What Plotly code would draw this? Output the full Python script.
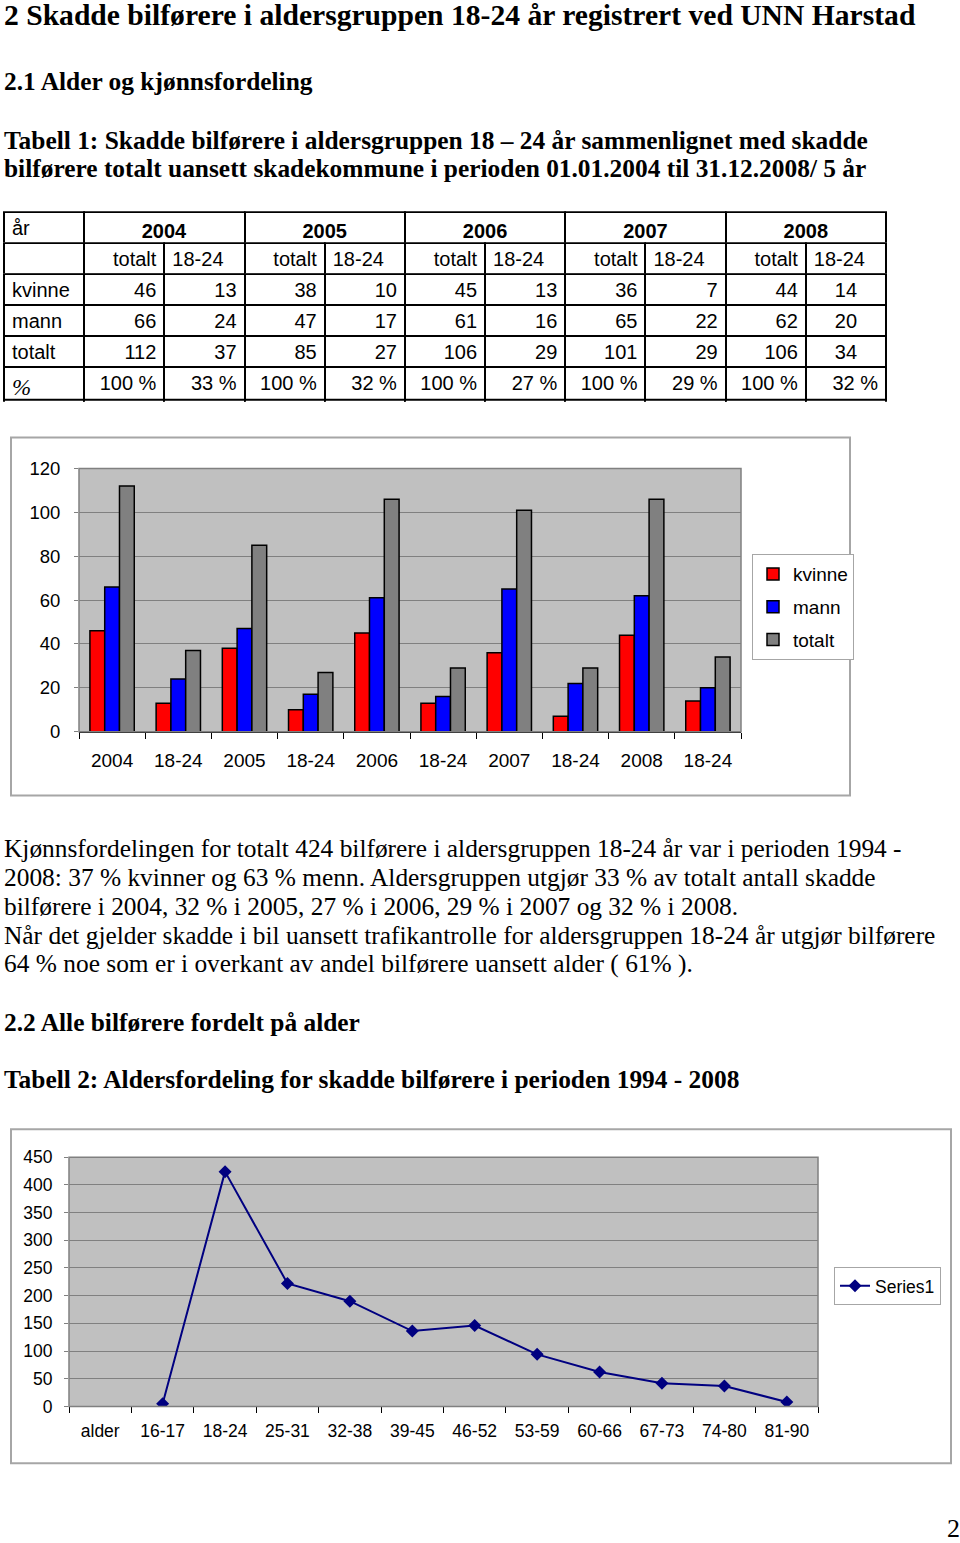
import plotly.graph_objects as go

# ---------------- data ----------------
years = ["2004", "2005", "2006", "2007", "2008"]
kvinne_totalt = [46, 38, 45, 36, 44]
kvinne_1824 = [13, 10, 13, 7, 14]
mann_totalt = [66, 47, 61, 65, 62]
mann_1824 = [24, 17, 16, 22, 20]
totalt_totalt = [112, 85, 106, 101, 106]
totalt_1824 = [37, 27, 29, 29, 34]

age_groups = ["alder", "16-17", "18-24", "25-31", "32-38", "39-45", "46-52",
              "53-59", "60-66", "67-73", "74-80", "81-90"]
age_counts = [None, 5, 424, 222, 190, 136, 146, 94, 62, 42, 37, 8]

W, H = 960, 1543
# the page is shown with the plot area offset/squeezed vertically; map target pixels
Y_OFF, Y_SPAN = 8, 1527


def px(x):
    return x / W


def py(y):
    return 1 - (y - Y_OFF) / Y_SPAN


SANS = "Liberation Sans"
SERIF = "Liberation Serif"
LINE = dict(color="black", width=2)

fig = go.Figure()


def add_row(values, align, widths, top, bottom, family=SANS, size=20, extra=0):
    fig.add_trace(go.Table(
        domain=dict(x=[px(4), px(886)], y=[py(bottom + extra), py(top)]),
        columnwidth=widths,
        header=dict(values=values, height=bottom - top, align=align, line=LINE,
                    fill=dict(color="white"),
                    font=dict(family=family, size=size, color="black")),
    ))


# row 1: year headers (merged cells)
add_row(["år"] + ["<b>%s</b>" % y for y in years], ["left"] + ["center"] * 5,
        [80] + [160] * 5, 210, 241)
# row 2: sub headers
sub = [""]
for y in years:
    sub += ["totalt", "18-24"]
add_row(sub, ["left"] + ["right", "left"] * 5, [80] * 11, 241, 272)
# rows 3-5: counts
count_rows = [("kvinne", kvinne_totalt, kvinne_1824),
              ("mann", mann_totalt, mann_1824),
              ("totalt", totalt_totalt, totalt_1824)]
top = 272
for label, tot, young in count_rows:
    vals = [label]
    for i in range(5):
        vals += [str(tot[i]), str(young[i])]
    add_row(vals, ["left"] + ["right"] * 9 + ["center"], [80] * 11, top, top + 31)
    top += 31
# row 6: percentages
pct = ["<i>%</i>"]
for i in range(5):
    pct += ["100 %", "%d %%" % round(totalt_1824[i] / totalt_totalt[i] * 100)]
add_row(pct, ["left"] + ["right"] * 10, [80] * 11, 365, 398,
        family=[SERIF] + [SANS] * 10, size=[23] + [20] * 10, extra=3)

# ---------------- bar chart ----------------
bar_labels = []
kv, ma, to = [], [], []
for i, y in enumerate(years):
    bar_labels += [y, "18-24"]
    kv += [kvinne_totalt[i], kvinne_1824[i]]
    ma += [mann_totalt[i], mann_1824[i]]
    to += [totalt_totalt[i], totalt_1824[i]]
xb = list(range(len(bar_labels)))

for name, vals, col in [("kvinne", kv, "#FF0000"), ("mann", ma, "#0000FF"), ("totalt", to, "#808080")]:
    fig.add_trace(go.Bar(x=xb, y=vals, name=name, marker=dict(color=col, line=dict(color="black", width=1.5)),
                         xaxis="x", yaxis="y", legend="legend", legendgroup=name))

# ---------------- line chart ----------------
xl = list(range(len(age_groups)))
fig.add_trace(go.Scatter(x=xl, y=age_counts, name="Series1", mode="lines+markers",
                         line=dict(color="#000080", width=2),
                         marker=dict(symbol="diamond", size=10, color="#000080"),
                         xaxis="x2", yaxis="y2", legend="legend2"))

# ---------------- text ----------------
TS = 25.4
texts = [
    ("<b>2 Skadde bilførere i aldersgruppen 18-24 år registrert ved UNN Harstad</b>", 12, 29.6),
    ("<b>2.1 Alder og kjønnsfordeling</b>", 78, TS),
    ("<b>Tabell 1: Skadde bilførere i aldersgruppen 18 – 24 år sammenlignet med skadde</b>", 137, TS),
    ("<b>bilførere totalt uansett skadekommune i perioden 01.01.2004 til 31.12.2008/ 5 år</b>", 166, TS),
    ("Kjønnsfordelingen for totalt 424 bilførere i aldersgruppen 18-24 år var i perioden 1994 -", 848, TS),
    ("2008: 37 % kvinner og 63 % menn. Aldersgruppen utgjør 33 % av totalt antall skadde", 877, TS),
    ("bilførere i 2004, 32 % i 2005, 27 % i 2006, 29 % i 2007 og 32 % i 2008.", 906, TS),
    ("Når det gjelder skadde i bil uansett trafikantrolle for aldersgruppen 18-24 år utgjør bilførere", 935, TS),
    ("64 % noe som er i overkant av andel bilførere uansett alder ( 61% ).", 964, TS),
    ("<b>2.2 Alle bilførere fordelt på alder</b>", 1022, TS),
    ("<b>Tabell 2: Aldersfordeling for skadde bilførere i perioden 1994 - 2008</b>", 1080, TS),
]
annotations = []
for t, yy, s in texts:
    annotations.append(dict(text=t, x=px(2), y=py(yy), xref="paper", yref="paper",
                            xanchor="left", yanchor="middle", showarrow=False,
                            font=dict(family=SERIF, size=s, color="black")))
annotations.append(dict(text="2", x=px(953), y=py(1530), xref="paper", yref="paper",
                        xanchor="center", yanchor="middle", showarrow=False,
                        font=dict(family=SERIF, size=26, color="black")))

shapes = [
    # bottom border of the table
    dict(type="line", xref="paper", yref="paper", x0=px(4), x1=px(887), y0=py(398), y1=py(398),
         line=dict(color="black", width=2)),
    dict(type="rect", xref="paper", yref="paper", x0=px(11), x1=px(850), y0=py(795), y1=py(436),
         line=dict(color="#A6A6A6", width=2), layer="below"),
    dict(type="rect", xref="paper", yref="paper", x0=px(11), x1=px(951), y0=py(1465), y1=py(1130),
         line=dict(color="#A6A6A6", width=2), layer="below"),
    dict(type="rect", xref="x domain", yref="y domain", x0=0, x1=1, y0=0, y1=1,
         line=dict(color="#808080", width=1.5)),
    dict(type="rect", xref="x2 domain", yref="y2 domain", x0=0, x1=1, y0=0, y1=1,
         line=dict(color="#808080", width=1.5)),
]

fig.update_layout(
    width=W, height=H, margin=dict(l=0, r=0, t=0, b=0),
    paper_bgcolor="white", plot_bgcolor="#C0C0C0",
    barmode="group", bargap=0.33, bargroupgap=0,
    annotations=annotations, shapes=shapes,
    xaxis=dict(domain=[px(79), px(741)], anchor="y", range=[-0.5, len(xb) - 0.5],
               tickmode="array", tickvals=xb, ticktext=bar_labels, ticks="",
               showgrid=False, zeroline=False, showline=True, linecolor="black", linewidth=1,
               minor=dict(tickmode="array", tickvals=[v - 0.5 for v in xb] + [len(xb) - 0.5],
                          ticks="outside", ticklen=6, tickcolor="black", showgrid=False),
               tickfont=dict(family=SANS, size=19, color="black"), ticklabelstandoff=12, fixedrange=True),
    yaxis=dict(domain=[py(731), py(467)], anchor="x", range=[0, 120], dtick=20,
               gridcolor="#808080", gridwidth=1, zeroline=False, showline=False,
               ticks="outside", ticklen=4, tickcolor="#808080",
               tickfont=dict(family=SANS, size=18.5, color="black"), ticklabelstandoff=10, fixedrange=True),
    xaxis2=dict(domain=[px(69), px(818)], anchor="y2", range=[-0.5, len(xl) - 0.5],
                tickmode="array", tickvals=xl, ticktext=age_groups, ticks="",
                showgrid=False, zeroline=False, showline=True, linecolor="black", linewidth=1,
                minor=dict(tickmode="array", tickvals=[v - 0.5 for v in xl] + [len(xl) - 0.5],
                           ticks="outside", ticklen=6, tickcolor="black", showgrid=False),
                tickfont=dict(family=SANS, size=17.5, color="black"), ticklabelstandoff=9, fixedrange=True),
    yaxis2=dict(domain=[py(1408), py(1158)], anchor="x2", range=[0, 450], dtick=50,
                gridcolor="#808080", gridwidth=1, zeroline=False, showline=False,
                ticks="outside", ticklen=4, tickcolor="#808080",
                tickfont=dict(family=SANS, size=17.5, color="black"), ticklabelstandoff=8, fixedrange=True),
    legend=dict(x=px(752), y=py(553), xanchor="left", yanchor="top",
                bordercolor="#A6A6A6", borderwidth=1, bgcolor="white",
                font=dict(family=SANS, size=19, color="black"), tracegroupgap=5,
                itemwidth=30),
    legend2=dict(x=px(834), y=py(1268), xanchor="left", yanchor="top",
                 bordercolor="#A6A6A6", borderwidth=1, bgcolor="white",
                 font=dict(family=SANS, size=17.5, color="black"), itemwidth=30),
    showlegend=True,
)

fig.write_html("out.html")
